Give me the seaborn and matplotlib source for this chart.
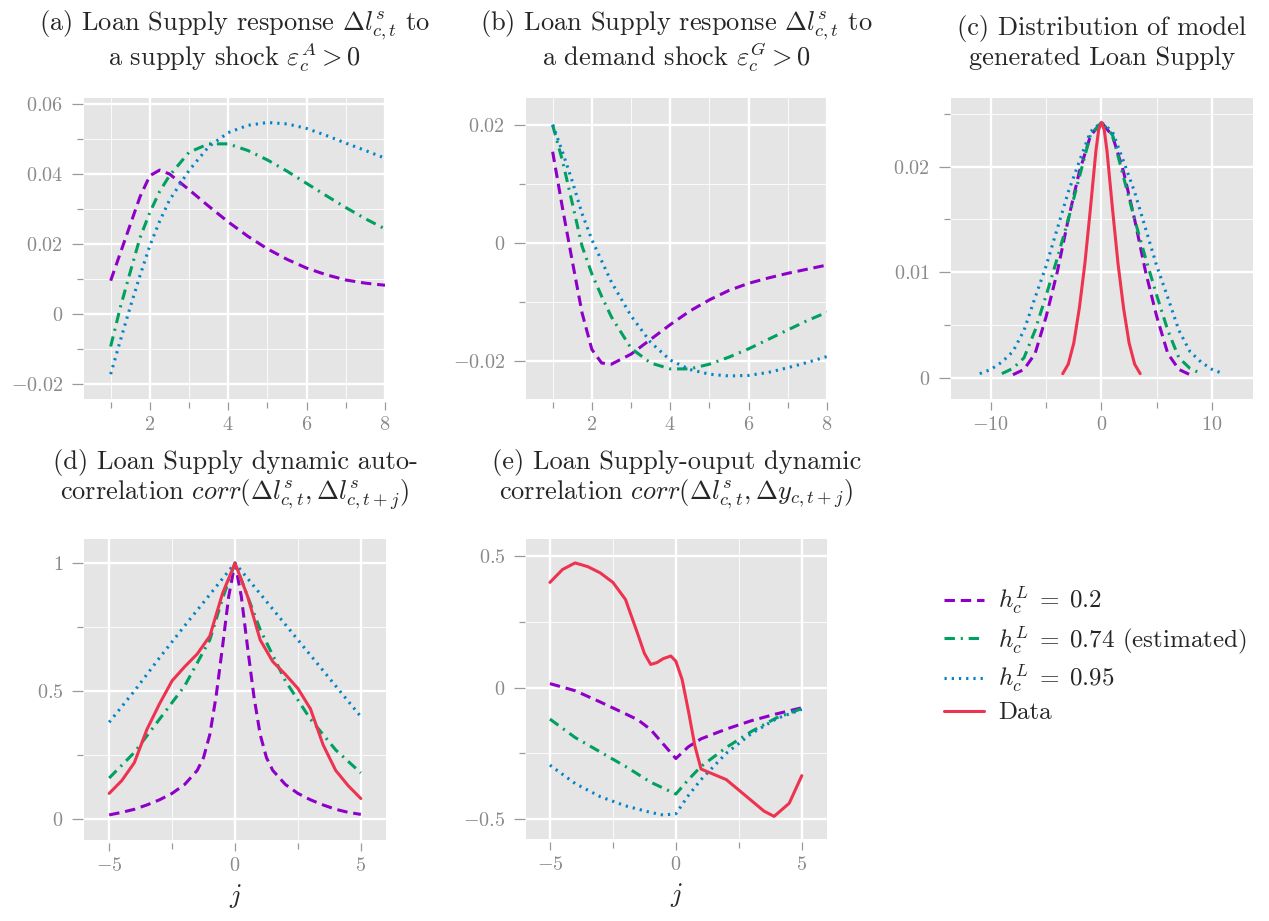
import matplotlib
matplotlib.use("Agg")
import matplotlib.pyplot as plt
import seaborn as sns
import pandas as pd

# ---------------- data ----------------
# (a) supply shock response
xa = [1, 1.25, 1.5, 1.75, 2, 2.25, 2.5, 3, 3.5, 4, 4.5, 5, 5.5, 6, 6.5, 7, 7.5, 8]
a_h02 = [0.0095, 0.0175, 0.0255, 0.0335, 0.0395, 0.0411, 0.0400, 0.0355, 0.0308, 0.0263,
         0.0222, 0.0186, 0.0156, 0.0131, 0.0112, 0.0097, 0.0088, 0.0082]
a_h074 = [-0.0093, 0.0020, 0.0120, 0.0218, 0.0290, 0.0350, 0.0395, 0.0462, 0.0486, 0.0486,
          0.0467, 0.0440, 0.0408, 0.0373, 0.0338, 0.0304, 0.0272, 0.0243]
a_h095 = [-0.0172, -0.0075, 0.0020, 0.0110, 0.0195, 0.0265, 0.0325, 0.0410, 0.0478, 0.0518,
          0.0539, 0.0547, 0.0543, 0.0530, 0.0510, 0.0488, 0.0467, 0.0445]

# (b) demand shock response
xb = [1, 1.25, 1.5, 1.75, 2, 2.25, 2.5, 3, 3.5, 4, 4.5, 5, 5.5, 6, 6.5, 7, 7.5, 8]
b_h02 = [0.0155, 0.0060, -0.0030, -0.0118, -0.0180, -0.0203, -0.0205, -0.0188, -0.0163, -0.0138,
         -0.0115, -0.0096, -0.0080, -0.0068, -0.0059, -0.0051, -0.0044, -0.0037]
b_h074 = [0.0200, 0.0140, 0.0068, -0.0005, -0.0052, -0.0090, -0.0125, -0.0178, -0.0203, -0.0213,
          -0.0213, -0.0205, -0.0193, -0.0179, -0.0163, -0.0147, -0.0131, -0.0117]
b_h095 = [0.0201, 0.0155, 0.0105, 0.0050, 0.0006, -0.0030, -0.0066, -0.0123, -0.0168, -0.0198,
          -0.0214, -0.0222, -0.0225, -0.0224, -0.0219, -0.0211, -0.0202, -0.0192]

# (c) distributions
xc_h02 = [-8, -7, -6, -5, -4, -3, -2, -1, 0, 1, 2, 3, 4, 5, 6, 7, 8]
c_h02 = [0.0003, 0.0008, 0.0023, 0.0058, 0.0100, 0.0150, 0.0195, 0.0229, 0.0242,
         0.0229, 0.0195, 0.0150, 0.0100, 0.0058, 0.0023, 0.0008, 0.0003]
xc_h074 = [-9, -8, -7, -6, -5, -4, -3, -2, -1, 0, 1, 2, 3, 4, 5, 6, 7, 8, 9]
c_h074 = [0.0004, 0.0009, 0.0019, 0.0045, 0.0078, 0.0113, 0.0150, 0.0190, 0.0230, 0.0242,
          0.0230, 0.0190, 0.0150, 0.0113, 0.0078, 0.0045, 0.0019, 0.0009, 0.0004]
xc_h095 = [-11, -10, -9, -8, -7, -6, -5, -4, -3, -2, -1, 0, 1, 2, 3, 4, 5, 6, 7, 8, 9, 10, 11]
c_h095 = [0.0004, 0.0008, 0.0015, 0.0025, 0.0045, 0.0076, 0.0106, 0.0141, 0.0176, 0.0205, 0.0233,
          0.0242, 0.0233, 0.0205, 0.0176, 0.0141, 0.0106, 0.0076, 0.0045, 0.0025, 0.0015, 0.0008, 0.0004]
xc_data = [-3.5, -3, -2.5, -2, -1.5, -1, -0.5, -0.25, 0, 0.25, 0.5, 1, 1.5, 2, 2.5, 3, 3.5]
c_data = [0.0004, 0.0013, 0.0033, 0.0066, 0.0108, 0.0160, 0.0215, 0.0235, 0.0242, 0.0235,
          0.0215, 0.0160, 0.0108, 0.0066, 0.0033, 0.0013, 0.0004]

# (d) auto-correlation
xd_h02 = [-5, -4.5, -4, -3.5, -3, -2.5, -2, -1.5, -1.25, -1, -0.75, -0.5, -0.25, 0,
          0.25, 0.5, 0.75, 1, 1.25, 1.5, 2, 2.5, 3, 3.5, 4, 4.5, 5]
d_h02 = [0.016, 0.026, 0.038, 0.055, 0.075, 0.10, 0.135, 0.19, 0.24, 0.33, 0.48, 0.67, 0.87, 1.0,
         0.87, 0.67, 0.48, 0.33, 0.24, 0.19, 0.135, 0.10, 0.075, 0.055, 0.038, 0.026, 0.018]
xd_h074 = [-5, -4, -3, -2, -1, -0.5, 0, 0.5, 1, 2, 3, 4, 5]
d_h074 = [0.16, 0.26, 0.39, 0.52, 0.70, 0.86, 1.0, 0.87, 0.74, 0.54, 0.39, 0.27, 0.18]
xd_h095 = [-5, -4, -3, -2, -1, 0, 1, 2, 3, 4, 5]
d_h095 = [0.378, 0.50, 0.63, 0.755, 0.877, 1.0, 0.88, 0.76, 0.64, 0.52, 0.40]
xd_data = [-5, -4.5, -4, -3.5, -3, -2.5, -2, -1.5, -1, -0.5, 0, 0.5, 1, 1.5, 2, 2.5, 3, 3.5, 4, 4.5, 5]
d_data = [0.10, 0.15, 0.22, 0.35, 0.45, 0.54, 0.595, 0.645, 0.715, 0.88, 1.0, 0.87, 0.70, 0.615,
          0.565, 0.51, 0.43, 0.29, 0.19, 0.13, 0.08]

# (e) loan supply - output correlation
xe_h02 = [-5, -4, -3, -2, -1.5, -1, -0.5, 0, 0.5, 1, 2, 3, 4, 5]
e_h02 = [0.015, -0.012, -0.055, -0.10, -0.123, -0.16, -0.215, -0.27, -0.225, -0.195, -0.158, -0.126, -0.10, -0.077]
xe_h074 = [-5, -4, -3, -2, -1, 0, 0.5, 1, 2, 3, 4, 5]
e_h074 = [-0.12, -0.19, -0.245, -0.30, -0.36, -0.405, -0.35, -0.30, -0.228, -0.167, -0.115, -0.08]
xe_h095 = [-5, -4, -3, -2, -1, -0.5, 0, 0.5, 1, 2, 3, 4, 5]
e_h095 = [-0.295, -0.365, -0.415, -0.45, -0.475, -0.485, -0.48, -0.41, -0.35, -0.25, -0.175, -0.118, -0.083]
xe_data = [-5, -4.5, -4, -3.5, -3, -2.5, -2, -1.5, -1.25, -1, -0.75, -0.5, -0.2, 0, 0.25, 0.5, 0.75,
           1, 1.5, 2, 2.5, 3, 3.5, 3.9, 4.5, 5]
e_data = [0.40, 0.449, 0.474, 0.46, 0.436, 0.40, 0.335, 0.20, 0.13, 0.088, 0.095, 0.11, 0.12, 0.10,
          0.03, -0.09, -0.22, -0.31, -0.33, -0.35, -0.39, -0.43, -0.47, -0.49, -0.44, -0.335]

series_labels = [r"$h_c^L\;=\;0.2$", r"$h_c^L\;=\;0.74$ (estimated)", r"$h_c^L\;=\;0.95$", "Data"]
colors = ["#8E00C8", "#00A060", "#0083C8", "#EE3350"]

panel_titles = {
    "a": ("(a) Loan Supply response $\\Delta l^s_{c,t}$ to", "a supply shock $\\varepsilon^A_c > 0$"),
    "b": ("(b) Loan Supply response $\\Delta l^s_{c,t}$ to", "a demand shock $\\varepsilon^G_c > 0$"),
    "c": ("(c) Distribution of model", "generated Loan Supply"),
    "d": ("(d) Loan Supply dynamic auto-", "correlation $corr(\\Delta l^s_{c,t}, \\Delta l^s_{c,t+j})$"),
    "e": ("(e) Loan Supply-ouput dynamic", "correlation $corr(\\Delta l^s_{c,t}, \\Delta y_{c,t+j})$"),
}

# ---------------- style ----------------
sns.set_theme(style="darkgrid")
plt.rcParams["font.family"] = ["cmr10", "DejaVu Serif"]
plt.rcParams["mathtext.fontset"] = "cm"
plt.rcParams["axes.formatter.use_mathtext"] = True
plt.rcParams["lines.scale_dashes"] = False
plt.rcParams["axes.facecolor"] = "#E5E5E5"

styles = [(0, (7.5, 4.2)), (0, (7.5, 4.2, 1.5, 4.2)), (0, (1.6, 3.6)), "-"]
LW = 2.2

fig = plt.figure(figsize=(12.69, 9.21), dpi=100)
W, H = 1269.0, 921.0


def add_ax(left, top, width, height):
    return fig.add_axes([left / W, 1 - (top + height) / H, width / W, height / H])


ax_a = add_ax(84, 98, 301, 301)
ax_b = add_ax(526, 98, 301, 301)
ax_c = add_ax(951, 98, 302, 301)
ax_d = add_ax(84, 539, 302, 301)
ax_e = add_ax(526, 539, 301, 300)


def m(s):
    return r"$%s$" % s


def style_axes(ax, xlim, ylim, xmaj, xlab, xmin, ymaj, ylab, ymin):
    ax.set_facecolor("#E5E5E5")
    ax.set_xlim(*xlim)
    ax.set_ylim(*ylim)
    ax.set_xticks(xmaj, labels=[m(t) for t in xlab])
    ax.set_xticks(xmin, minor=True)
    ax.set_yticks(ymaj, labels=[m(t) for t in ylab])
    ax.set_yticks(ymin, minor=True)
    ax.grid(which="major", color="white", linewidth=1.7)
    ax.grid(which="minor", color="white", linewidth=0.7, alpha=0.85)
    ax.set_axisbelow(True)
    for s in ax.spines.values():
        s.set_visible(False)
    ax.spines["bottom"].set_position(("outward", 2))
    ax.spines["left"].set_position(("outward", 1))
    ax.tick_params(axis="x", which="major", bottom=True, length=6, width=0.9, color="#9a9a9a",
                   labelcolor="#8a8a8a", labelsize=14.5, pad=4)
    ax.tick_params(axis="x", which="minor", bottom=True, length=4, width=0.9, color="#9a9a9a")
    ax.tick_params(axis="y", which="major", left=True, length=8, width=0.9, color="#9a9a9a",
                   labelcolor="#8a8a8a", labelsize=14.5, pad=6)
    ax.tick_params(axis="y", which="minor", left=True, length=4.5, width=0.9, color="#9a9a9a")
    ax.set_xlabel("")
    ax.set_ylabel("")


def draw(ax, xs_list, ys_list, idxs):
    for xs, ys, i in zip(xs_list, ys_list, idxs):
        df = pd.DataFrame({"x": xs, "y": ys})
        sns.lineplot(data=df, x="x", y="y", ax=ax, color=colors[i], linestyle=styles[i],
                     linewidth=LW, label=series_labels[i], errorbar=None)
    if ax.get_legend() is not None:
        ax.get_legend().remove()


draw(ax_a, [xa, xa, xa], [a_h02, a_h074, a_h095], [0, 1, 2])
draw(ax_b, [xb, xb, xb], [b_h02, b_h074, b_h095], [0, 1, 2])
draw(ax_c, [xc_h02, xc_h074, xc_h095, xc_data], [c_h02, c_h074, c_h095, c_data], [0, 1, 2, 3])
draw(ax_d, [xd_h02, xd_h074, xd_h095, xd_data], [d_h02, d_h074, d_h095, d_data], [0, 1, 2, 3])
draw(ax_e, [xe_h02, xe_h074, xe_h095, xe_data], [e_h02, e_h074, e_h095, e_data], [0, 1, 2, 3])

style_axes(ax_a, (0.32, 8.0), (-0.0243, 0.0617), [2, 4, 6, 8], ["2", "4", "6", "8"], [1, 3, 5, 7],
           [-0.02, 0, 0.02, 0.04, 0.06], ["-0.02", "0", "0.02", "0.04", "0.06"],
           [-0.01, 0.01, 0.03, 0.05])
style_axes(ax_b, (0.32, 8.0), (-0.0264, 0.0246), [2, 4, 6, 8], ["2", "4", "6", "8"], [1, 3, 5, 7],
           [-0.02, 0, 0.02], ["-0.02", "0", "0.02"], [-0.01, 0.01])
style_axes(ax_c, (-13.6, 13.7), (-0.002, 0.0265), [-10, 0, 10], ["-10", "0", "10"], [-5, 5],
           [0, 0.01, 0.02], ["0", "0.01", "0.02"], [0.005, 0.015, 0.025])
style_axes(ax_d, (-6.0, 6.0), (-0.082, 1.094), [-5, 0, 5], ["-5", "0", "5"], [-2.5, 2.5],
           [0, 0.5, 1], ["0", "0.5", "1"], [0.25, 0.75])
style_axes(ax_e, (-5.95, 6.0), (-0.576, 0.565), [-5, 0, 5], ["-5", "0", "5"], [-2.5, 2.5],
           [-0.5, 0, 0.5], ["-0.5", "0", "0.5"], [-0.25, 0.25])

# titles: two lines each, placed by baseline (pixels from top)
TFS = 19
title_pos = {
    "a": (ax_a, 30, 65),
    "b": (ax_b, 30, 65),
    "c": (ax_c, 35, 65),
    "d": (ax_d, 469, 499),
    "e": (ax_e, 469, 499),
}
for key, (ax, b1, b2) in title_pos.items():
    pos = ax.get_position()
    xc = (pos.x0 + pos.x1) / 2
    l1, l2 = panel_titles[key]
    fig.text(xc, 1 - b1 / H, l1, ha="center", va="baseline", fontsize=TFS)
    fig.text(xc, 1 - b2 / H, l2, ha="center", va="baseline", fontsize=TFS)

ax_d.set_xlabel(r"$j$", fontsize=19, labelpad=5)
ax_e.set_xlabel(r"$j$", fontsize=19, labelpad=5)

handles, labels = ax_d.get_legend_handles_labels()
fig.legend(handles, labels, loc="upper left", bbox_to_anchor=(944 / W, 1 - 585 / H),
           frameon=False, fontsize=18, handlelength=1.6, handletextpad=0.55,
           labelspacing=0.28, borderaxespad=0, borderpad=0)

fig.savefig("out.png", dpi=100)
